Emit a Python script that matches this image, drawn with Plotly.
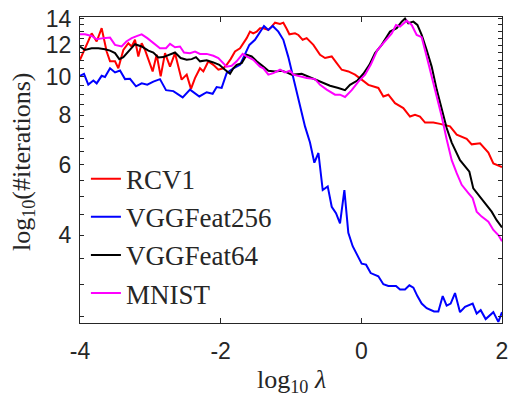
import plotly.graph_objects as go

# ---------------- data ----------------
rcv1_x = [-4.0, -3.834, -3.763, -3.692, -3.621, -3.573, -3.502, -3.455, -3.384, -3.313, -3.265, -3.218,
          -3.171, -3.123, -3.076, -3.028, -2.967, -2.910, -2.853, -2.791, -2.720, -2.649, -2.555, -2.483,
          -2.422, -2.365, -2.294, -2.246, -2.175, -2.104, -2.033, -1.962, -1.915, -1.858, -1.796, -1.725,
          -1.678, -1.630, -1.583, -1.536, -1.488, -1.441, -1.393, -1.322, -1.275, -1.227, -1.156, -1.109,
          -1.062, -1.023, -0.943, -0.895, -0.834, -0.777, -0.682, -0.587, -0.516, -0.421, -0.350, -0.279,
          -0.184, -0.090, 0.005, 0.100, 0.242, 0.313, 0.384, 0.479, 0.597, 0.692, 0.763, 0.834, 0.906,
          1.024, 1.119, 1.261, 1.356, 1.498, 1.569, 1.688, 1.806, 1.877, 2.0]
rcv1_y = [11.03, 12.85, 12.26, 13.24, 11.57, 10.93, 10.93, 10.5, 11.67, 12.14, 11.91, 12.38,
          11.24, 12.14, 11.67, 11.03, 10.31, 11.35, 10.02, 11.46, 10.60, 11.46, 9.83, 10.12,
          9.32, 9.92, 10.5, 10.31, 10.93, 10.71, 10.41, 10.5, 10.71, 11.07, 11.57, 11.79,
          12.14, 12.5, 12.98, 12.85, 12.98, 13.24, 13.24, 13.11, 13.36, 13.67, 13.57, 13.67,
          13.2, 12.78, 12.85, 12.73, 12.38, 12.5, 12.02, 11.35, 11.14, 11.24, 10.82, 10.41,
          10.31, 10.12, 9.83, 9.54, 9.37, 8.92, 9.01, 8.58, 8.34, 7.94, 8.02, 7.94, 7.67,
          7.67, 7.61, 7.50, 7.15, 6.98, 6.76, 6.80, 6.45, 6.05, 5.93]

vgg256_x = [-4.0, -3.943, -3.882, -3.810, -3.763, -3.692, -3.645, -3.573, -3.502, -3.431, -3.360, -3.289,
            -3.204, -3.123, -3.043, -2.957, -2.863, -2.777, -2.673, -2.540, -2.436, -2.303, -2.199, -2.114,
            -2.057, -1.986, -1.915, -1.820, -1.725, -1.654, -1.592, -1.512, -1.441, -1.384, -1.322, -1.260,
            -1.180, -1.109, -1.038, -0.943, -0.872, -0.801, -0.730, -0.668, -0.610, -0.549, -0.478, -0.421,
            -0.360, -0.303, -0.241, -0.185, -0.123, -0.057, 0.005, 0.067, 0.133, 0.242, 0.313, 0.384,
            0.493, 0.550, 0.621, 0.683, 0.740, 0.797, 0.858, 0.929, 1.034, 1.095, 1.157, 1.213, 1.270,
            1.332, 1.403, 1.474, 1.583, 1.640, 1.697, 1.768, 1.877, 1.948, 2.0]
vgg256_y = [10.05, 10.17, 9.55, 9.78, 9.62, 10.05, 9.98, 10.5, 10.25, 10.36, 9.86, 9.88,
            9.46, 9.62, 9.55, 9.72, 9.86, 9.25, 9.20, 8.87, 9.28, 8.92, 9.14, 9.06,
            9.42, 9.37, 10.21, 10.5, 10.71, 11.35, 12.02, 12.38, 12.98, 13.41, 13.11, 13.41,
            12.98, 12.38, 11.2, 9.55, 8.42, 7.50, 6.83, 6.08, 6.43, 5.19, 5.30, 4.71,
            4.54, 4.28, 5.19, 4.05, 3.75, 3.57, 3.39, 3.37, 3.21, 3.15, 3.01, 2.98,
            2.98, 2.92, 2.92, 2.99, 2.95, 2.81, 2.69, 2.62, 2.57, 2.57, 2.81, 2.66, 2.69,
            2.86, 2.56, 2.64, 2.69, 2.54, 2.59, 2.46, 2.56, 2.42, 2.56]

vgg64_x = [-4.0, -3.929, -3.834, -3.739, -3.645, -3.573, -3.502, -3.441, -3.384, -3.313, -3.218, -3.123,
           -3.028, -2.957, -2.886, -2.815, -2.730, -2.649, -2.569, -2.483, -2.412, -2.351, -2.294, -2.199,
           -2.104, -2.019, -1.938, -1.867, -1.820, -1.773, -1.701, -1.630, -1.559, -1.488, -1.393, -1.322,
           -1.227, -1.133, -1.061, -0.990, -0.848, -0.706, -0.564, -0.445, -0.327, -0.232, -0.161, -0.056,
           0.029, 0.114, 0.195, 0.289, 0.408, 0.503, 0.574, 0.621, 0.668, 0.740, 0.797, 0.858, 0.929,
           1.000, 1.072, 1.143, 1.213, 1.285, 1.356, 1.403, 1.498, 1.536, 1.592, 1.687, 1.782, 1.853,
           1.924, 2.0]
vgg64_y = [11.91, 11.67, 11.79, 11.79, 11.72, 11.63, 11.46, 11.07, 11.2, 11.57, 12.07, 11.91,
           11.63, 11.5, 11.18, 11.2, 11.35, 11.5, 11.14, 11.03, 11.07, 11.2, 10.93, 11.0,
           10.86, 10.71, 10.41, 10.17, 10.5, 10.71, 10.82, 11.35, 11.24, 10.93, 10.6, 10.35,
           10.31, 10.35, 10.25, 10.12, 10.17, 9.92, 9.67, 9.49, 9.37, 9.25, 9.54, 9.78,
           10.17, 10.71, 11.46, 12.02, 12.98, 13.24, 13.75, 14.0, 13.62, 13.75, 13.49, 12.73, 11.67,
           10.6, 9.28, 8.26, 7.43, 6.83, 6.40, 6.17, 5.88, 5.77, 5.24, 5.0, 4.76, 4.58,
           4.36, 4.18]

mnist_x = [-4.0, -3.929, -3.834, -3.763, -3.668, -3.573, -3.502, -3.408, -3.341, -3.265, -3.185, -3.123,
           -3.043, -2.957, -2.863, -2.777, -2.720, -2.649, -2.578, -2.521, -2.436, -2.365, -2.294, -2.199,
           -2.104, -2.033, -1.962, -1.915, -1.844, -1.773, -1.687, -1.630, -1.536, -1.441, -1.393, -1.322,
           -1.251, -1.156, -1.085, -1.014, -0.967, -0.872, -0.777, -0.658, -0.587, -0.493, -0.374, -0.303,
           -0.232, -0.137, -0.042, 0.053, 0.133, 0.228, 0.337, 0.432, 0.493, 0.550, 0.645, 0.716, 0.787,
           0.858, 0.929, 1.000, 1.072, 1.143, 1.213, 1.285, 1.356, 1.427, 1.522, 1.583, 1.640, 1.711,
           1.806, 1.877, 1.948, 2.0]
mnist_y = [12.78, 12.78, 12.66, 12.42, 12.5, 12.54, 12.02, 11.91, 12.26, 12.5, 12.66, 12.78,
           12.5, 12.14, 11.79, 11.79, 12.09, 11.86, 11.91, 11.5, 11.46, 11.57, 11.41, 11.41,
           11.29, 11.14, 10.82, 10.6, 10.65, 10.93, 11.41, 11.24, 11.03, 10.6, 10.5, 10.12,
           10.21, 10.41, 10.25, 10.35, 10.12, 10.02, 9.92, 9.86, 9.54, 9.28, 9.01, 9.01,
           8.89, 9.25, 9.72, 10.12, 10.71, 11.67, 12.26, 12.85, 13.49, 13.36, 13.83, 13.49, 12.73,
           12.57, 11.24, 10.02, 8.92, 7.94, 6.96, 6.17, 5.72, 5.35, 5.10, 4.95, 4.58, 4.45,
           4.32, 4.12, 4.0, 3.86]

series_names = ["RCV1", "VGGFeat256", "VGGFeat64", "MNIST"]
series_colors = ["#FF0000", "#0000FF", "#000000", "#FF00FF"]

x_tick_vals = [-4, -2, 0, 2]
x_tick_text = ["-4", "-2", "0", "2"]
y_tick_vals = [4, 6, 8, 10, 12, 14]
y_tick_text = ["4", "6", "8", "10", "12", "14"]
y_minor_vals = [2.5, 3, 3.5, 4.5, 5, 5.5, 6.5, 7, 7.5, 8.5, 9, 9.5,
                10.5, 11, 11.5, 12.5, 13, 13.5]

# ---------------- figure ----------------
xs = [rcv1_x, vgg256_x, vgg64_x, mnist_x]
ys = [rcv1_y, vgg256_y, vgg64_y, mnist_y]

fig = go.Figure()
for name, color, xv, yv in zip(series_names, series_colors, xs, ys):
    fig.add_trace(go.Scatter(x=xv, y=yv, mode="lines", name=name, legendgroup=name,
                             line=dict(color=color, width=2)))

axis_color = "#262626"
tick_font = dict(family="Liberation Sans, Arial, sans-serif", size=23, color=axis_color)
serif = "Liberation Serif, Times New Roman, serif"

fig.update_layout(
    width=511, height=396,
    margin=dict(l=80, r=9, t=17, b=73),
    paper_bgcolor="white", plot_bgcolor="white",
    showlegend=True,
    legend=dict(x=0.014, y=0.55, xanchor="left", yanchor="top",
                bgcolor="rgba(0,0,0,0)", borderwidth=0,
                font=dict(family=serif, size=27, color=axis_color),
                tracegroupgap=0),
    annotations=[
        dict(text="log<sub>10</sub> <i>λ</i>", xref="paper", yref="paper",
             x=0.5, y=-0.19, xanchor="center", yanchor="middle", showarrow=False,
             font=dict(family=serif, size=26, color=axis_color)),
        dict(text="log<sub>10</sub>(#iterations)", xref="paper", yref="paper",
             x=-0.135, y=0.526, xanchor="center", yanchor="middle", showarrow=False,
             textangle=-90, font=dict(family=serif, size=26, color=axis_color)),
    ],
)

fig.update_xaxes(
    range=[-4, 2], tickmode="array", tickvals=x_tick_vals, ticktext=x_tick_text,
    ticks="inside", ticklen=5, tickcolor=axis_color, tickwidth=1,
    showline=True, linecolor=axis_color, linewidth=1.3, mirror="ticks",
    showgrid=False, zeroline=False, tickfont=tick_font, ticklabelstandoff=7,
    ticklabeloverflow="allow", automargin=False,
)
fig.update_yaxes(
    type="log", range=[0.381, 1.150], tickmode="array", tickvals=y_tick_vals,
    ticktext=y_tick_text,
    ticks="inside", ticklen=4, tickcolor=axis_color, tickwidth=1,
    minor=dict(tickmode="array", tickvals=y_minor_vals, ticks="inside", ticklen=4,
               tickcolor=axis_color, tickwidth=1, showgrid=False),
    showline=True, linecolor=axis_color, linewidth=1.3, mirror="ticks",
    showgrid=False, zeroline=False, tickfont=tick_font, ticklabelstandoff=3,
    ticklabeloverflow="allow", automargin=False,
)

# remove the default 8px page margin so the figure fills the window exactly
fig.write_html("out.html", config={"displayModeBar": False},
               post_script="document.body.style.margin='0px';")
